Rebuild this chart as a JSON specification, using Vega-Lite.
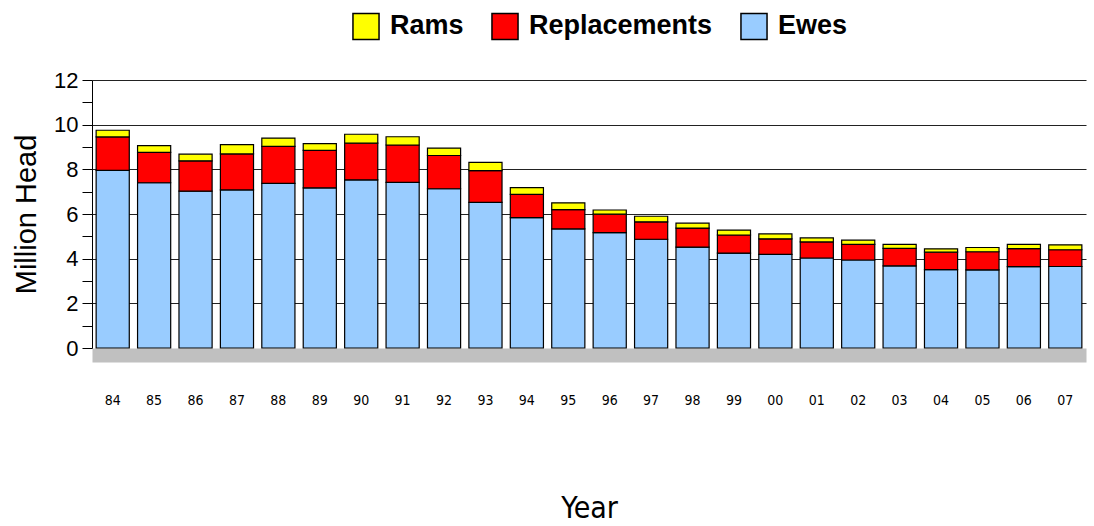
{
  "$schema": "https://vega.github.io/schema/vega-lite/v6.json",
  "width": 994,
  "height": 268,
  "autosize": {"type": "none"},
  "padding": {"left": 92, "top": 80, "right": 8, "bottom": 178},
  "background": "white",
  "config": {
    "font": "Liberation Sans",
    "view": {"stroke": null}
  },
  "data": {
    "values": [
      {"Year": "84", "Ewes": 7.95, "Replacements": 1.50, "Rams": 0.30},
      {"Year": "85", "Ewes": 7.40, "Replacements": 1.36, "Rams": 0.30},
      {"Year": "86", "Ewes": 7.02, "Replacements": 1.36, "Rams": 0.30},
      {"Year": "87", "Ewes": 7.08, "Replacements": 1.61, "Rams": 0.42},
      {"Year": "88", "Ewes": 7.37, "Replacements": 1.66, "Rams": 0.37},
      {"Year": "89", "Ewes": 7.17, "Replacements": 1.68, "Rams": 0.30},
      {"Year": "90", "Ewes": 7.53, "Replacements": 1.64, "Rams": 0.40},
      {"Year": "91", "Ewes": 7.42, "Replacements": 1.67, "Rams": 0.37},
      {"Year": "92", "Ewes": 7.13, "Replacements": 1.49, "Rams": 0.33},
      {"Year": "93", "Ewes": 6.52, "Replacements": 1.42, "Rams": 0.37},
      {"Year": "94", "Ewes": 5.84, "Replacements": 1.04, "Rams": 0.30},
      {"Year": "95", "Ewes": 5.33, "Replacements": 0.87, "Rams": 0.30},
      {"Year": "96", "Ewes": 5.17, "Replacements": 0.82, "Rams": 0.19},
      {"Year": "97", "Ewes": 4.87, "Replacements": 0.78, "Rams": 0.25},
      {"Year": "98", "Ewes": 4.52, "Replacements": 0.85, "Rams": 0.22},
      {"Year": "99", "Ewes": 4.25, "Replacements": 0.81, "Rams": 0.22},
      {"Year": "00", "Ewes": 4.19, "Replacements": 0.70, "Rams": 0.22},
      {"Year": "01", "Ewes": 4.03, "Replacements": 0.72, "Rams": 0.18},
      {"Year": "02", "Ewes": 3.94, "Replacements": 0.70, "Rams": 0.19},
      {"Year": "03", "Ewes": 3.68, "Replacements": 0.78, "Rams": 0.18},
      {"Year": "04", "Ewes": 3.51, "Replacements": 0.78, "Rams": 0.15},
      {"Year": "05", "Ewes": 3.50, "Replacements": 0.81, "Rams": 0.19},
      {"Year": "06", "Ewes": 3.64, "Replacements": 0.81, "Rams": 0.19},
      {"Year": "07", "Ewes": 3.65, "Replacements": 0.75, "Rams": 0.22}
    ]
  },
  "transform": [
    {"fold": ["Ewes", "Replacements", "Rams"], "as": ["Category", "Head"]},
    {"calculate": "indexof(['Ewes', 'Replacements', 'Rams'], datum.Category)", "as": "Layer"}
  ],
  "mark": {"type": "bar", "stroke": "black", "strokeWidth": 1.2},
  "encoding": {
    "x": {
      "field": "Year",
      "type": "ordinal",
      "sort": null,
      "scale": {"paddingInner": 0.2, "paddingOuter": 0.1},
      "axis": {
        "title": "Year",
        "titleFont": "DejaVu Sans Condensed",
        "titleFontSize": 30,
        "titleFontWeight": "normal",
        "titleColor": "black",
        "titlePadding": 86,
        "labelAngle": 0,
        "labelFont": "DejaVu Sans Condensed",
        "labelFontSize": 14,
        "labelColor": "black",
        "labelPadding": 38,
        "ticks": false,
        "domainColor": "#C0C0C0",
        "domainWidth": 14,
        "domainCap": "butt",
        "offset": 7
      }
    },
    "y": {
      "field": "Head",
      "type": "quantitative",
      "stack": "zero",
      "scale": {"domain": [0, 12], "nice": false},
      "axis": {
        "title": "Million Head",
        "titleFontSize": 29,
        "titleFontWeight": "normal",
        "titleColor": "black",
        "titlePadding": 12,
        "values": [0, 1, 2, 3, 4, 5, 6, 7, 8, 9, 10, 11, 12],
        "labelExpr": "datum.value % 2 == 0 ? datum.label : ''",
        "labelFontSize": 22,
        "labelColor": "black",
        "labelPadding": 4,
        "tickSize": 10,
        "tickColor": "black",
        "domainColor": "black",
        "grid": true,
        "gridColor": "#222222",
        "gridWidth": 1.2,
        "gridOpacity": {"condition": {"test": "datum.value % 2 === 1 || datum.value === 0", "value": 0}, "value": 1}
      }
    },
    "color": {
      "field": "Category",
      "type": "nominal",
      "scale": {
        "domain": ["Ewes", "Replacements", "Rams"],
        "range": ["#99CCFF", "#FF0000", "#FFFF00"]
      },
      "legend": {
        "title": null,
        "orient": "none",
        "legendX": 260,
        "legendY": -68,
        "direction": "horizontal",
        "values": ["Rams", "Replacements", "Ewes"],
        "symbolType": "square",
        "symbolSize": 680,
        "symbolStrokeColor": "black",
        "symbolStrokeWidth": 1.5,
        "labelFontSize": 27,
        "labelFontWeight": "bold",
        "labelColor": "black",
        "labelLimit": 400,
        "labelOffset": 10,
        "columnPadding": 24
      }
    },
    "order": {"field": "Layer", "type": "quantitative", "sort": "ascending"}
  }
}
